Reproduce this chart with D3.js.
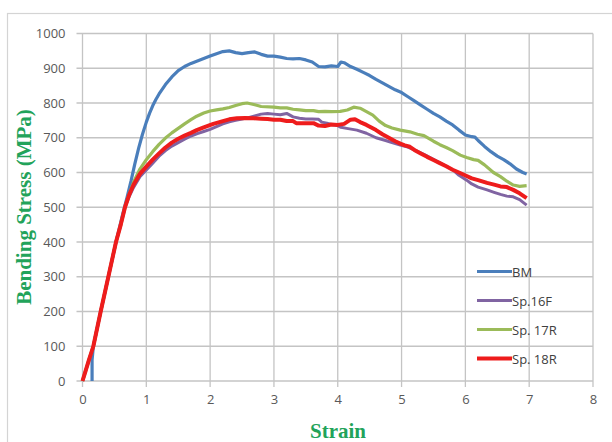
<!DOCTYPE html>
<meta charset="utf-8">
<script src="https://d3js.org/d3.v7.min.js"></script>
<style>
	body{
		margin:0;
		background:#fff;
		font-family:'Open Sans', sans-serif;
	}
	.tick text{
		font-size:13px;
		fill:#595959;
	}
	.axisTitle{
		font-family:'Liberation Serif','Times New Roman',serif;
		font-weight:bold;
		font-size:21px;
		fill:#22a35a;
	}
	.legend text{
		font-size:13px;
		fill:#404040;
	}
</style>
<div id="chart"></div>

<script>
	// values: [strain, bending stress MPa]
	var bmData = [[0.15,0],[0.15,60],[0.17,100],[0.285,200],[0.405,300],[0.525,400],[0.63,480],[0.7,530],[0.76,575],[0.82,625],[0.88,670],[0.94,710],[1.0,745],[1.05,770],[1.1,792],[1.15,810],[1.2,826],[1.3,853],[1.4,875],[1.5,893],[1.6,905],[1.7,914],[1.8,921],[1.9,928],[2.0,935],[2.1,942],[2.2,948],[2.3,950],[2.4,945],[2.5,942],[2.6,945],[2.7,947],[2.8,940],[2.9,935],[3.0,935],[3.1,932],[3.2,928],[3.3,927],[3.4,928],[3.5,924],[3.6,918],[3.7,905],[3.8,904],[3.9,907],[4.0,905],[4.05,918],[4.1,916],[4.2,905],[4.3,897],[4.4,888],[4.5,879],[4.6,868],[4.7,858],[4.8,848],[4.9,838],[5.0,830],[5.1,818],[5.2,806],[5.3,794],[5.4,782],[5.5,770],[5.6,760],[5.7,748],[5.8,737],[5.9,722],[6.0,708],[6.1,703],[6.15,702],[6.2,692],[6.3,675],[6.4,660],[6.5,647],[6.6,637],[6.7,625],[6.8,610],[6.9,600],[6.96,596]]

	var sp16Data = [[0,0],[0.05,30],[0.1,60],[0.17,100],[0.285,200],[0.405,300],[0.525,400],[0.6,450],[0.666,500],[0.73,530],[0.8,557],[0.9,588],[1.0,607],[1.1,627],[1.2,647],[1.3,663],[1.4,676],[1.5,686],[1.6,696],[1.7,705],[1.8,712],[1.9,718],[2.0,724],[2.1,732],[2.2,740],[2.3,746],[2.4,750],[2.5,754],[2.6,758],[2.7,763],[2.8,768],[2.9,770],[3.0,768],[3.1,766],[3.2,770],[3.3,760],[3.4,756],[3.5,754],[3.6,754],[3.7,753],[3.75,745],[3.83,742],[3.9,738],[4.0,735],[4.05,730],[4.14,727],[4.3,722],[4.45,713],[4.6,700],[4.75,692],[4.85,686],[4.98,679],[5.1,673],[5.2,665],[5.35,652],[5.5,638],[5.6,628],[5.7,618],[5.8,608],[5.9,592],[6.02,578],[6.1,567],[6.2,558],[6.34,550],[6.45,543],[6.55,537],[6.65,532],[6.75,530],[6.85,522],[6.96,506]]

	var sp17Data = [[0,0],[0.05,30],[0.1,60],[0.17,100],[0.285,200],[0.405,300],[0.525,400],[0.6,450],[0.666,500],[0.72,530],[0.8,572],[0.9,610],[1.0,637],[1.1,660],[1.2,681],[1.3,699],[1.4,714],[1.5,727],[1.6,740],[1.7,752],[1.79,762],[1.9,771],[2.0,777],[2.1,780],[2.2,783],[2.3,787],[2.4,793],[2.5,798],[2.58,800],[2.7,795],[2.8,790],[3.0,788],[3.1,786],[3.2,786],[3.3,782],[3.4,780],[3.5,778],[3.62,778],[3.7,775],[3.8,776],[3.9,775],[4.04,776],[4.15,780],[4.25,788],[4.35,785],[4.45,775],[4.55,765],[4.65,748],[4.75,735],[4.85,728],[4.98,722],[5.13,717],[5.25,710],[5.35,706],[5.5,690],[5.6,680],[5.7,672],[5.8,663],[5.92,650],[6.02,643],[6.13,637],[6.2,635],[6.3,622],[6.44,600],[6.55,588],[6.65,575],[6.75,564],[6.85,560],[6.96,562]]

	var sp18Data = [[0,0],[0.05,30],[0.1,60],[0.17,100],[0.285,200],[0.405,300],[0.525,400],[0.6,450],[0.666,500],[0.73,535],[0.8,565],[0.9,596],[1.0,617],[1.1,637],[1.2,655],[1.3,672],[1.4,686],[1.5,697],[1.6,706],[1.7,714],[1.79,722],[1.9,730],[2.05,740],[2.2,748],[2.3,753],[2.42,756],[2.55,757],[2.68,756],[2.8,755],[2.9,754],[3.0,752],[3.1,752],[3.2,748],[3.3,748],[3.35,742],[3.5,742],[3.62,742],[3.7,735],[3.8,734],[3.9,738],[4.0,737],[4.1,740],[4.2,752],[4.27,753],[4.35,745],[4.45,737],[4.6,722],[4.7,710],[4.8,700],[4.9,690],[4.98,683],[5.05,678],[5.13,674],[5.2,665],[5.3,655],[5.4,645],[5.5,636],[5.6,627],[5.7,618],[5.8,608],[5.9,600],[6.02,590],[6.1,583],[6.2,578],[6.34,570],[6.45,565],[6.55,560],[6.65,558],[6.75,550],[6.85,540],[6.96,526]]

	var seriesNames = ["BM","Sp.16F","Sp. 17R","Sp. 18R"]
	var seriesColors = ["#4a7ebb","#8064a2","#9bbb59","#ee1c1c"]
	var seriesWidths = [3.2,3,3.2,4]
	var xTicks = [0,1,2,3,4,5,6,7,8]
	var yTicks = [0,100,200,300,400,500,600,700,800,900,1000]

	var allSeries = [bmData,sp16Data,sp17Data,sp18Data]

	drawChart()

	function drawChart(){
		var w = 612
		var h = 442
		var pLeft = 82.5, pRight = 593, pTop = 33.5, pBottom = 381

		var svg = d3.select("#chart").append("svg").attr("width",w).attr("height",h)

		// outer frame
		svg.append("rect").attr("x",7.5).attr("y",13.5).attr("width",w).attr("height",h)
			.attr("fill","none").attr("stroke","#d4d4d4").attr("stroke-width",1.2)

		var xScale = d3.scaleLinear().domain([0,8]).range([pLeft,pRight])
		var yScale = d3.scaleLinear().domain([0,1000]).range([pBottom,pTop])

		// grid
		svg.append("g").selectAll("line").data(xTicks).enter().append("line")
			.attr("x1",function(d){return xScale(d)}).attr("x2",function(d){return xScale(d)})
			.attr("y1",pTop).attr("y2",pBottom+6)
			.attr("stroke","#c4c4c4").attr("stroke-width",1.3)
		svg.append("g").selectAll("line").data(yTicks).enter().append("line")
			.attr("y1",function(d){return yScale(d)}).attr("y2",function(d){return yScale(d)})
			.attr("x1",pLeft-6).attr("x2",pRight)
			.attr("stroke","#c4c4c4").attr("stroke-width",1.3)

		var xAxis = d3.axisBottom(xScale).tickValues(xTicks).tickSize(0).tickPadding(14).tickFormat(d3.format("d"))
		svg.append("g").attr("transform","translate(0,"+pBottom+")").call(xAxis)
			.call(function(g){g.select(".domain").remove()})
		var yAxis = d3.axisLeft(yScale).tickValues(yTicks).tickSize(0).tickPadding(17).tickFormat(d3.format("d"))
		svg.append("g").attr("transform","translate("+pLeft+",0)").call(yAxis)
			.call(function(g){g.select(".domain").remove()})
		svg.selectAll(".tick text").attr("font-family","'Open Sans', sans-serif").attr("fill","#595959")

		var line = d3.line()
			.x(function(d){return xScale(d[0])})
			.y(function(d){return yScale(d[1])})

		// draw order: blue, purple, green, red on top
		for(var k = 0; k<allSeries.length; k++){
			svg.append("path").datum(allSeries[k])
				.attr("d",line)
				.attr("fill","none")
				.attr("stroke",seriesColors[k])
				.attr("stroke-width",seriesWidths[k])
				.attr("stroke-linejoin","round")
		}

		// legend
		var legendY = d3.scaleLinear().domain([0,3]).range([271.5,358.5])
		var legend = svg.append("g").attr("class","legend")
		legend.selectAll("line").data(seriesNames).enter().append("line")
			.attr("x1",477).attr("x2",512)
			.attr("y1",function(d,i){return legendY(i)}).attr("y2",function(d,i){return legendY(i)})
			.attr("stroke",function(d,i){return seriesColors[i]})
			.attr("stroke-width",function(d,i){return seriesWidths[i]})
		legend.selectAll("text").data(seriesNames).enter().append("text")
			.attr("x",512).attr("y",function(d,i){return legendY(i)+5})
			.text(function(d){return d})

		// titles
		svg.append("text").attr("class","axisTitle").text("Strain")
			.attr("x",338).attr("y",438).attr("text-anchor","middle")
		svg.append("text").attr("class","axisTitle").text("Bending Stress (MPa)")
			.attr("transform","translate(31,207) rotate(-90)").attr("text-anchor","middle")
	}
</script>
